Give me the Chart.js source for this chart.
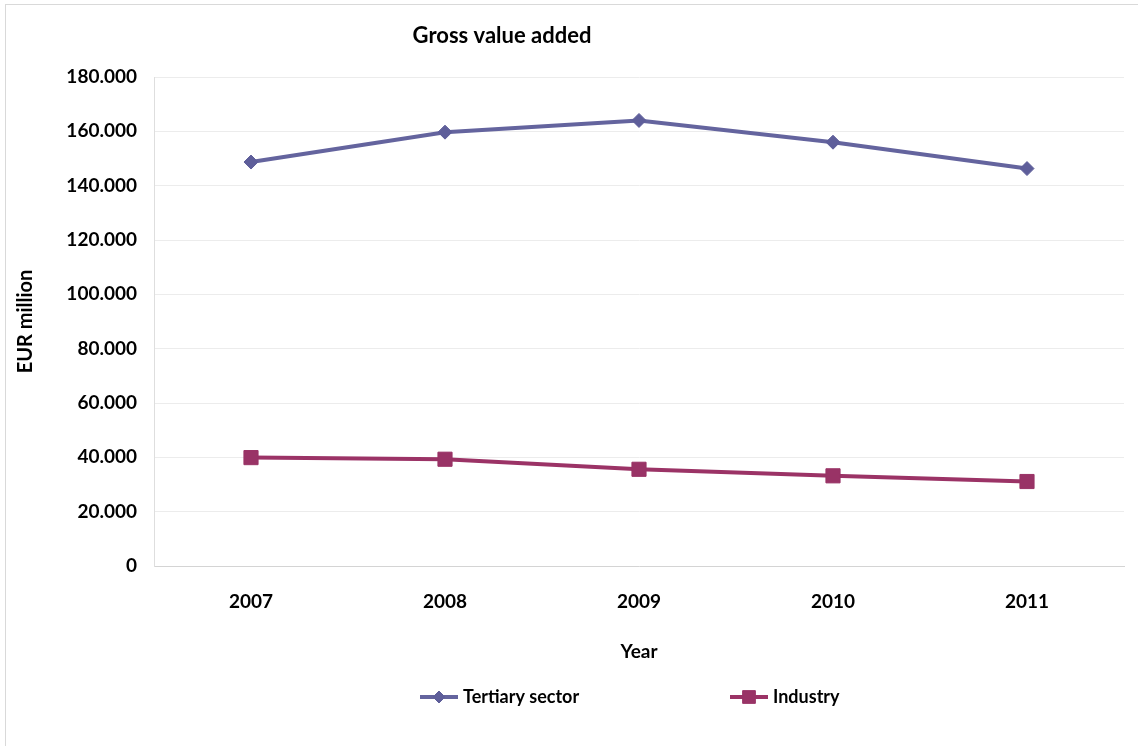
<!DOCTYPE html>
<html>
<head>
<meta charset="utf-8">
<script src="https://cdn.jsdelivr.net/npm/chart.js@4.4.0/dist/chart.umd.min.js"></script>
<style>
  html, body { margin: 0; padding: 0; background: #fff; overflow: hidden; }
  #frame { position: absolute; left: 5px; top: 4px; width: 1200px; height: 800px; border: 1px solid #d9d9d9; }
  #wrap { position: absolute; left: 0; top: 0; width: 1138px; height: 746px; }
</style>
</head>
<body>
<div id="frame"></div>
<div id="wrap"><canvas id="chart"></canvas></div>
<script>
// Gross value added, EUR million
const years = ['2007', '2008', '2009', '2010', '2011'];
const tertiarySector = [148700, 159700, 164000, 156000, 146300];
const industry = [39900, 39300, 35600, 33200, 31100];

const chartTitle = 'Gross value added';
const FONT = 'Lato, "Open Sans", sans-serif';

/**
 * Excel-style title and legend (line segment with marker in the middle),
 * drawn after the chart so they can sit where the original puts them.
 */
const excelDecor = {
  id: 'excelDecor',
  afterDraw(chart) {
    const { ctx } = chart;
    ctx.save();
    ctx.fillStyle = '#000';
    ctx.textBaseline = 'middle';

    ctx.font = `bold 22px ${FONT}`;
    ctx.textAlign = 'center';
    ctx.fillText(chartTitle, 502, 36);

    const legendX = [420, 730];
    const legendY = 697;
    ctx.font = `bold 18px ${FONT}`;
    ctx.textAlign = 'left';
    chart.data.datasets.forEach((ds, i) => {
      const x = legendX[i];
      ctx.strokeStyle = ds.borderColor;
      ctx.lineWidth = ds.borderWidth;
      ctx.beginPath();
      ctx.moveTo(x, legendY);
      ctx.lineTo(x + 38, legendY);
      ctx.stroke();

      ctx.fillStyle = ds.pointBackgroundColor;
      ctx.strokeStyle = ds.pointBorderColor;
      ctx.lineWidth = 1;
      Chart.helpers.drawPoint(ctx, {
        pointStyle: ds.pointStyle,
        radius: ds.pointRadius - 1,
        borderWidth: 1,
        rotation: 0,
      }, x + 19, legendY);

      ctx.fillStyle = '#000';
      ctx.fillText(ds.label, x + 43, legendY);
    });
    ctx.restore();
  },
};

new Chart(document.getElementById('chart'), {
  type: 'line',
  data: {
    labels: years,
    datasets: [
      {
        label: 'Tertiary sector',
        data: tertiarySector,
        borderColor: '#64649e',
        borderWidth: 4,
        pointStyle: 'rectRot',
        pointRadius: 7,
        pointBackgroundColor: '#5e5e9a',
        pointBorderColor: '#5e5e9a',
        pointBorderWidth: 1,
        tension: 0,
      },
      {
        label: 'Industry',
        data: industry,
        borderColor: '#9b3366',
        borderWidth: 4,
        pointStyle: 'rect',
        pointRadius: 10,
        pointBackgroundColor: '#993366',
        pointBorderColor: '#993366',
        pointBorderWidth: 1,
        tension: 0,
      },
    ],
  },
  options: {
    responsive: true,
    maintainAspectRatio: false,
    animation: false,
    layout: { padding: { top: 77, right: 14, bottom: 83, left: 0 } },
    plugins: {
      legend: { display: false },
      title: { display: false },
      tooltip: { enabled: false },
    },
    scales: {
      x: {
        offset: true,
        grid: { display: false, drawTicks: false },
        border: { color: '#d4d4d4', width: 1 },
        ticks: {
          color: '#000',
          padding: 24,
          font: { family: FONT, size: 19, weight: 'bold' },
        },
        title: {
          display: true,
          text: 'Year',
          color: '#000',
          padding: 0,
          font: { family: FONT, size: 19, weight: 'bold' },
        },
        afterFit(scale) { scale.height = 97; },
      },
      y: {
        min: 0,
        max: 180000,
        grid: { color: '#ececec', drawTicks: false },
        border: { color: '#dedede', width: 1 },
        ticks: {
          stepSize: 20000,
          color: '#000',
          padding: 17,
          font: { family: FONT, size: 19, weight: 'bold' },
          callback: v => (v === 0 ? '0' : v.toLocaleString('de-DE')),
        },
        title: {
          display: true,
          text: 'EUR million',
          color: '#000',
          padding: { top: 14, bottom: 0 },
          font: { family: FONT, size: 20, weight: 'bold' },
        },
        afterFit(scale) { scale.width = 154; },
      },
    },
  },
  plugins: [excelDecor],
});
</script>
</body>
</html>
